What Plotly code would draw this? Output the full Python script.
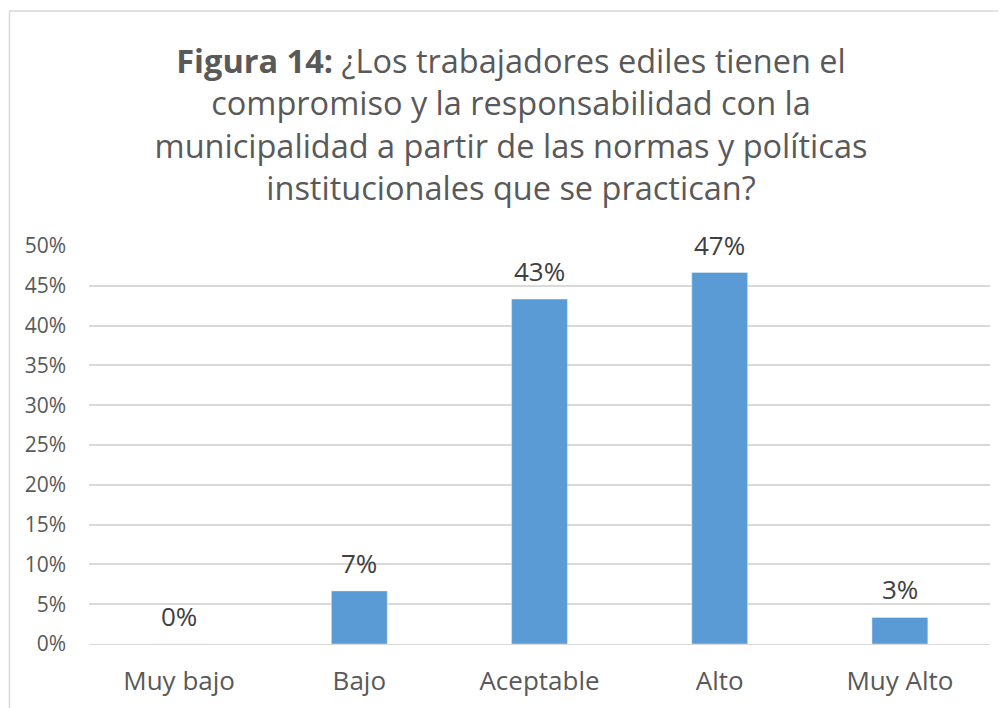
import plotly.graph_objects as go

categories = ["Muy bajo", "Bajo", "Aceptable", "Alto", "Muy Alto"]
values = [0.0, 6.67, 43.33, 46.67, 3.33]
labels = ["0%", "7%", "43%", "47%", "3%"]
tick_vals = [0, 5, 10, 15, 20, 25, 30, 35, 40, 45, 50]
tick_text = ["0%", "5%", "10%", "15%", "20%", "25%", "30%", "35%", "40%", "45%", "50%"]

FONT = "Open Sans"
TXT = "#595959"

fig = go.Figure(go.Bar(
    x=categories, y=values,
    marker=dict(color="#5B9BD5"), cliponaxis=False, width=0.31,
))

annotations = [
    dict(x=c, y=v, text=t, xref="x", yref="y", showarrow=False,
         yanchor="middle", yshift=28,
         font=dict(size=26, color="#404040", family=FONT))
    for c, v, t in zip(categories, values, labels)
]

title = ("<b>Figura 14:</b> ¿Los trabajadores ediles tienen el<br>"
         "compromiso y la responsabilidad con la<br>"
         "municipalidad a partir de las normas y políticas<br>"
         "institucionales que se practican?")

fig.update_layout(
    width=1006, height=708,
    margin=dict(l=81, r=24, t=238, b=72),
    paper_bgcolor="white", plot_bgcolor="white",
    showlegend=False,
    font=dict(family=FONT, color=TXT),
    title=dict(text=title, x=0.5, xref="container", xanchor="center",
               y=0.908, yref="container", yanchor="top",
               font=dict(size=32.5, color=TXT, family=FONT)),
    xaxis=dict(tickfont=dict(size=26, color=TXT), showgrid=False,
               showline=True, linecolor="#D9D9D9", ticks="", ticklen=0,
               ticklabelstandoff=14),
    yaxis=dict(range=[0, 50], tickvals=tick_vals, ticktext=tick_text,
               tickfont=dict(size=21, color=TXT), gridcolor="#D9D9D9",
               gridwidth=1.5, zeroline=False, ticks="", ticklabelstandoff=22),
    annotations=annotations,
    shapes=[dict(type="rect", xref="paper", yref="paper",
                 x0=(9.5 - 89) / 901, x1=(1014 - 89) / 901,
                 y0=(644 - 716) / 398, y1=(644 - 11) / 398,
                 line=dict(color="#D9D9D9", width=1.5), layer="below")],
)

fig.write_html("out.html")
